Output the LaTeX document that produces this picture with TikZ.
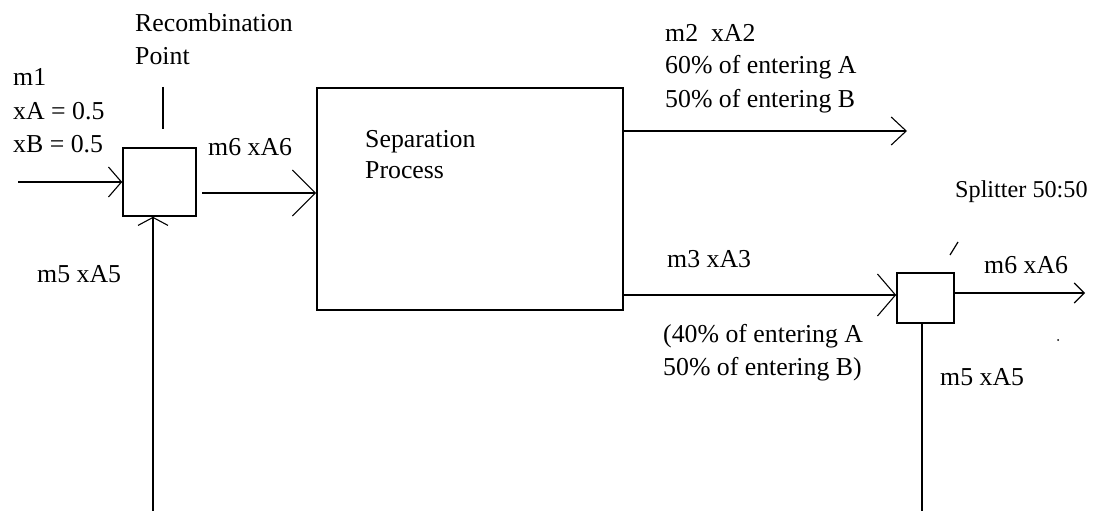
\documentclass[tikz,border=0pt]{standalone}
\usepackage{fontspec}
\setmainfont{Liberation Serif}
\usetikzlibrary{arrows.meta}
\begin{document}
\begin{tikzpicture}[x=1pt,y=-1pt,
  lbl/.style={anchor=base west,inner sep=0pt,font=\fontsize{25.8}{30}\selectfont},
  unit/.style={draw,line width=1.6pt,inner sep=0pt},
  flow/.style={line width=1.6pt},
  tipA/.style={-{Straight Barb[length=13pt,width=30pt,line width=1.1pt]}},
  tipB/.style={-{Straight Barb[length=23pt,width=46pt,line width=1.1pt]}},
  tipC/.style={-{Straight Barb[length=8pt,width=30pt,line width=1.1pt]}},
  tipD/.style={-{Straight Barb[length=15pt,width=28pt,line width=1.1pt]}},
  tipE/.style={-{Straight Barb[length=18pt,width=42pt,line width=1.1pt]}},
  tipF/.style={-{Straight Barb[length=10pt,width=20pt,line width=1.1pt]}}]
\useasboundingbox (0,0) rectangle (1096,511);

% process units
\node[unit,minimum width=73pt,minimum height=68pt] (rec) at (159.5,182) {};
\node[unit,minimum width=306pt,minimum height=222pt] (sep) at (470,199) {};
\node[unit,minimum width=57pt,minimum height=50pt] (split) at (925.5,298) {};

% labels
\node[lbl] (recA) at (135,32) {Recombination};
\node[lbl] (recB) at (135,65) {Point};
\node[lbl] (feedA) at (13,86) {m1};
\node[lbl] (feedB) at (13,119) {xA = 0.5};
\node[lbl] (feedC) at (13,152) {xB = 0.5};
\node[lbl] (mixout) at (208,155) {m6 xA6};
\node[lbl] (recyc) at (37,282) {m5 xA5};
\node[lbl] (sepA) at (365,147) {Separation};
\node[lbl] (sepB) at (365,178) {Process};
\node[lbl] (topA) at (665,42) {m2\ \ xA2};
\node[lbl] (topB) at (665,74) {60\% of entering A};
\node[lbl] (topC) at (665,107) {50\% of entering B};
\node[lbl] (botA) at (667,267) {m3 xA3};
\node[lbl] (botB) at (663,342) {(40\% of entering A};
\node[lbl] (botC) at (663,375) {50\% of entering B)};
\node[lbl,font=\fontsize{24.2}{30}\selectfont] (splA) at (955,197) {Splitter 50:50};
\node[lbl] (splB) at (984,273) {m6 xA6};
\node[lbl] (splC) at (940,385) {m5 xA5};

% pointer marks
\coordinate (pt1) at (163,87);
\coordinate (pt2) at (163,129);
\draw[flow] (pt1) -- (pt2);
\coordinate (sp1) at (950,255);
\coordinate (sp2) at (958,242);
\draw[line width=1.2pt] (sp1) -- (sp2);
\coordinate (speck) at (1058,340);
\fill (speck) circle (1pt);

% streams
\coordinate (feedin) at (18,182);
\draw[flow,tipA] (feedin) -- (feedin -| rec.west);
\coordinate (recout) at (202,193);
\draw[flow,tipB] (recout) -- (recout -| sep.west);
\coordinate (recycbot) at (153,511);
\draw[flow,tipC] (recycbot) -- (recycbot |- rec.south);
\coordinate (prodend) at (907,131);
\draw[flow,tipD] (prodend -| sep.east) -- (prodend);
\coordinate (midlow) at (760,295);
\draw[flow,tipE] (midlow -| sep.east) -- (midlow -| split.west);
\coordinate (splitend) at (1085,293);
\draw[flow,tipF] (splitend -| split.east) -- (splitend);
\coordinate (splitbot) at (922,511);
\draw[flow] (splitbot |- split.south) -- (splitbot);
\end{tikzpicture}
\end{document}
